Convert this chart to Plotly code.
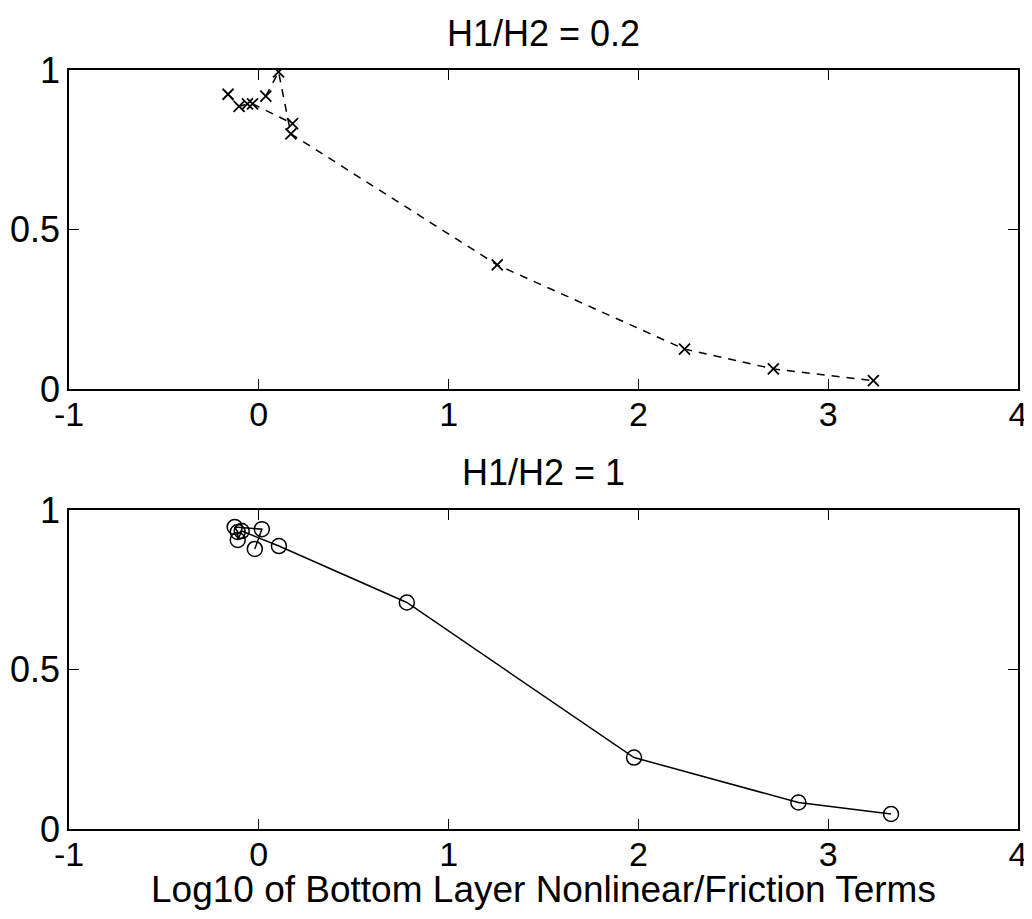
import plotly.graph_objects as go
from plotly.subplots import make_subplots

# top panel, H1/H2 = 0.2 (None splits the two runs of the dashed line)
x_top = [-0.162, -0.104, -0.060, -0.033, 0.178, None,
         0.037, 0.104, 0.169, 1.256, 2.243, 2.711, 3.238]
y_top = [0.924, 0.886, 0.894, 0.894, 0.832, None,
         0.918, 0.994, 0.800, 0.389, 0.125, 0.063, 0.026]

# bottom panel, H1/H2 = 1
x_bot = [-0.021, 0.016, -0.127, -0.111, -0.111, -0.090, 0.106, 0.78, 1.977, 2.843, 3.331]
y_bot = [0.878, 0.940, 0.947, 0.931, 0.906, 0.934, 0.887, 0.71, 0.224, 0.083, 0.047]

titles = ["H1/H2 = 0.2", "H1/H2 = 1"]
xlabel = "Log10 of Bottom Layer Nonlinear/Friction Terms"
x_ticks = [-1, 0, 1, 2, 3, 4]
y_ticks = [0, 0.5, 1]
y_ticklabels = ["0", "0.5", "1"]

FONT = "Liberation Sans, Arial"

fig = make_subplots(rows=2, cols=1, vertical_spacing=0.1594)

fig.add_trace(go.Scatter(x=x_top, y=y_top, mode="lines+markers", connectgaps=False,
                         line=dict(color="black", width=1.5, dash="8px,7px"),
                         marker=dict(symbol="x-thin", size=11, line=dict(color="black", width=1.8))),
              row=1, col=1)
fig.add_trace(go.Scatter(x=x_bot, y=y_bot, mode="lines+markers",
                         line=dict(color="black", width=1.5),
                         marker=dict(symbol="circle-open", size=15, color="black",
                                     line=dict(color="black", width=1.5))),
              row=2, col=1)

axis_common = dict(showgrid=False, zeroline=False, showline=True, linecolor="black",
                   linewidth=1.5, mirror="ticks", ticks="inside", ticklen=10,
                   tickcolor="black", tickwidth=1.2, automargin=False)
for r in (1, 2):
    fig.update_xaxes(range=[-1, 4], tickvals=x_ticks, ticktext=[str(t) for t in x_ticks],
                     ticklabelstandoff=-6, tickfont=dict(family=FONT, size=34, color="black"),
                     row=r, col=1, **axis_common)
    fig.update_yaxes(range=[0, 1], tickvals=y_ticks, ticktext=y_ticklabels,
                     ticklabelstandoff=0, tickfont=dict(family=FONT, size=36, color="black"),
                     row=r, col=1, **axis_common)

fig.update_yaxes(domain=[0.5797, 1], row=1, col=1)
fig.update_yaxes(domain=[0, 0.4203], row=2, col=1)

for title, ytop in zip(titles, [1.0, 0.4203]):
    fig.add_annotation(text=title, xref="paper", yref="paper", x=0.5, y=ytop, yshift=37,
                       yanchor="middle", showarrow=False,
                       font=dict(family=FONT, size=36, color="black"))

fig.add_annotation(text=xlabel, xref="paper", yref="paper", x=0.5, y=0, yshift=-60,
                   yanchor="middle", showarrow=False,
                   font=dict(family=FONT, size=37, color="black"))

# page body has an 8px margin, so the figure is sized to fit inside the window
fig.update_layout(width=1024, height=911, showlegend=False,
                  margin=dict(l=61, r=14, t=62, b=90),
                  paper_bgcolor="white", plot_bgcolor="white")

fig.write_html("out.html")
